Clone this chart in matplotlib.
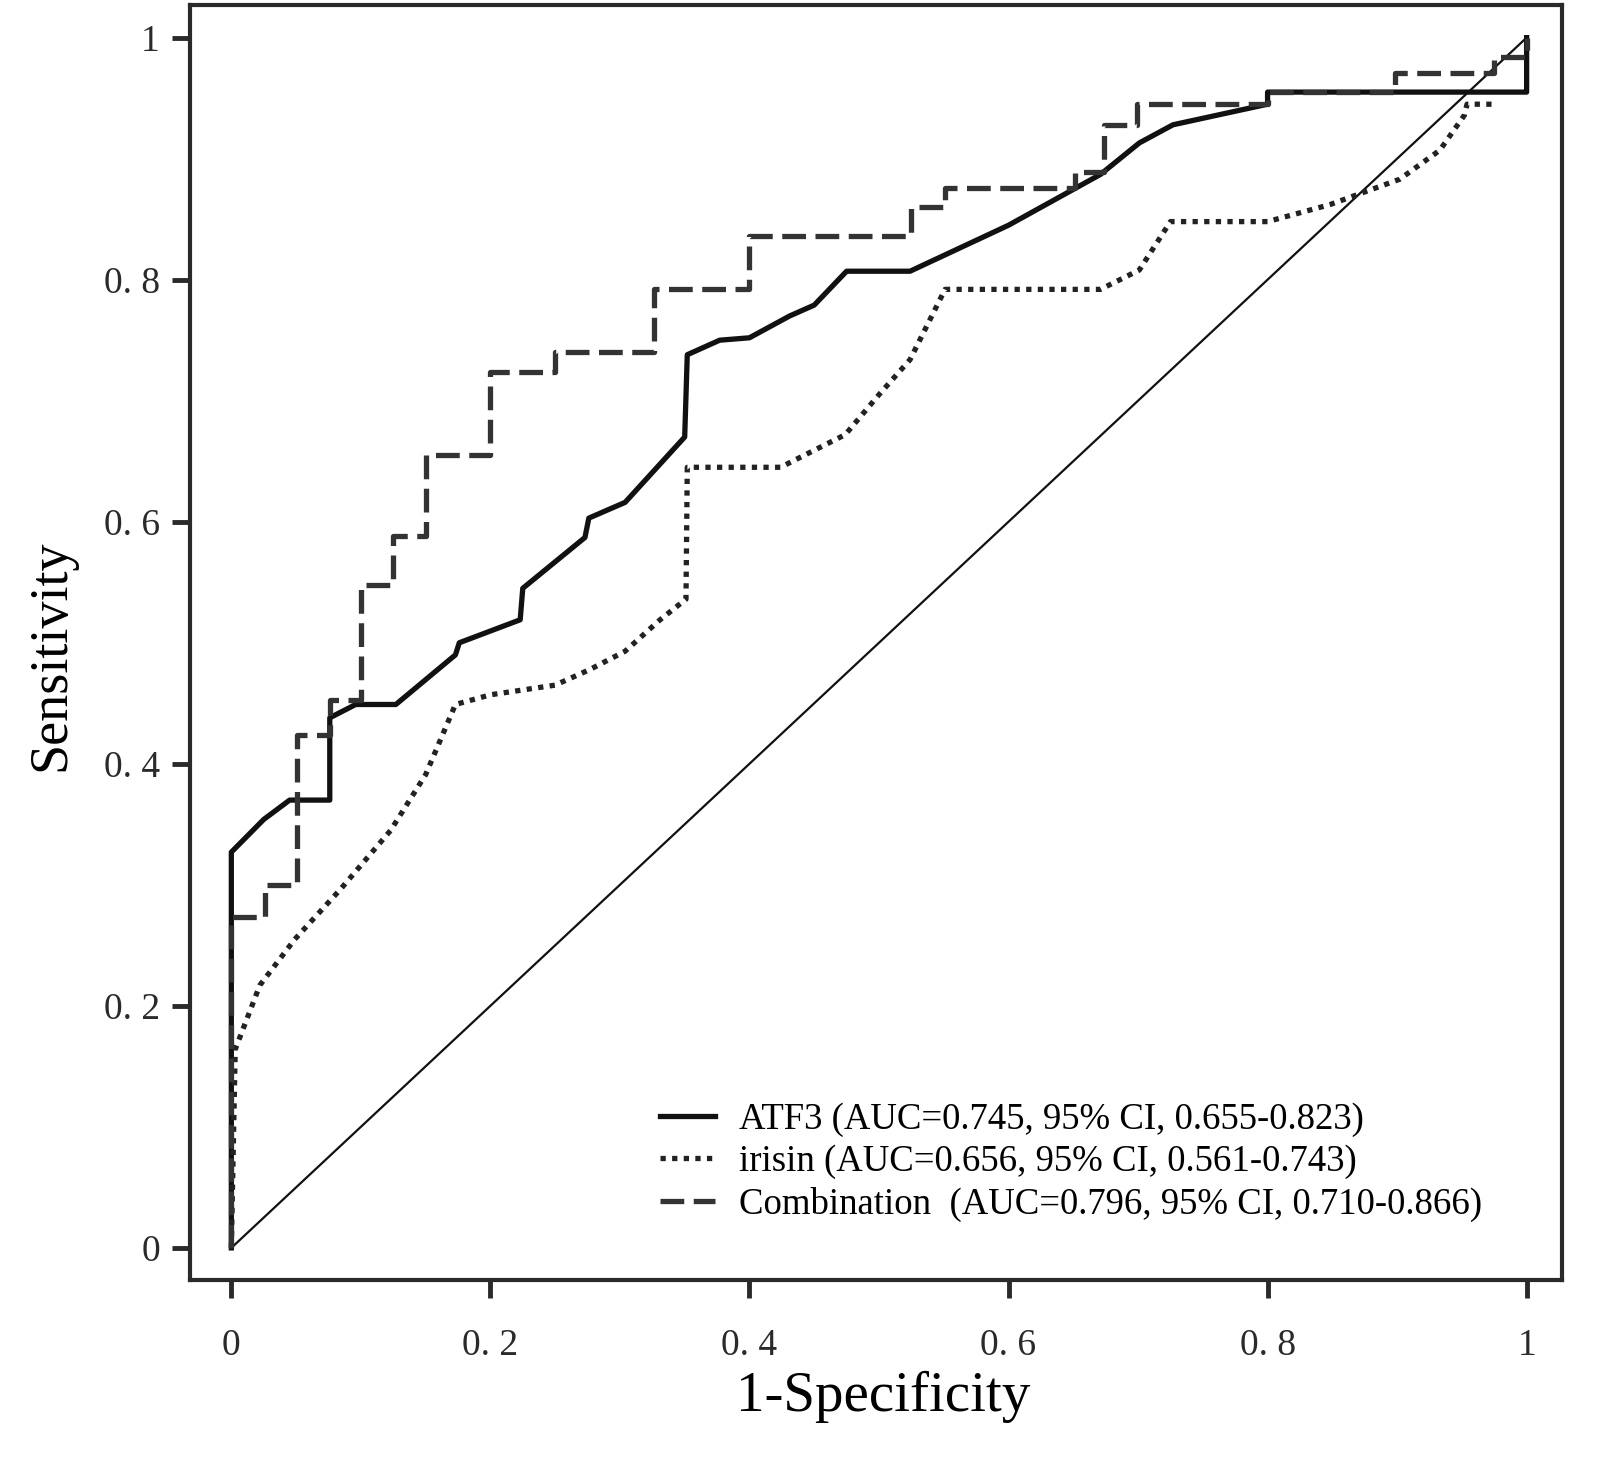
import matplotlib
matplotlib.use("Agg")
import matplotlib.pyplot as plt

# ROC curve points (1-specificity, sensitivity)
atf3_x = [0, 0, 0.025, 0.045, 0.076, 0.076, 0.096, 0.127, 0.173, 0.176, 0.223, 0.225,
          0.273, 0.276, 0.304, 0.350, 0.352, 0.377, 0.40, 0.431, 0.45, 0.475, 0.524,
          0.60, 0.671, 0.701, 0.727, 0.80, 0.80, 1.0, 1.0]
atf3_y = [0, 0.327, 0.354, 0.370, 0.370, 0.438, 0.449, 0.449, 0.490, 0.500, 0.519, 0.545,
          0.587, 0.603, 0.616, 0.670, 0.738, 0.750, 0.752, 0.770, 0.779, 0.807, 0.807,
          0.845, 0.887, 0.913, 0.928, 0.945, 0.955, 0.955, 1.0]

irisin_x = [0, 0.003, 0.022, 0.049, 0.084, 0.123, 0.150, 0.173, 0.20, 0.25, 0.277,
            0.304, 0.331, 0.351, 0.352, 0.424, 0.474, 0.50, 0.524, 0.551, 0.671, 0.701,
            0.725, 0.80, 0.848, 0.902, 0.933, 0.952, 0.954, 0.975]
irisin_y = [0, 0.164, 0.217, 0.255, 0.296, 0.345, 0.391, 0.449, 0.457, 0.465, 0.478,
            0.493, 0.519, 0.536, 0.645, 0.645, 0.672, 0.705, 0.734, 0.792, 0.792, 0.808,
            0.848, 0.848, 0.862, 0.883, 0.907, 0.936, 0.945, 0.945]

comb_x = [0, 0, 0.026, 0.026, 0.051, 0.051, 0.076, 0.076, 0.10, 0.10, 0.125, 0.125,
          0.150, 0.150, 0.20, 0.20, 0.25, 0.25, 0.326, 0.326, 0.40, 0.40, 0.525, 0.525,
          0.551, 0.551, 0.651, 0.651, 0.674, 0.674, 0.699, 0.699, 0.80, 0.80, 0.898,
          0.898, 0.975, 0.975, 1.0, 1.0]
comb_y = [0, 0.273, 0.273, 0.300, 0.300, 0.424, 0.424, 0.453, 0.453, 0.548, 0.548, 0.588,
          0.588, 0.655, 0.655, 0.724, 0.724, 0.740, 0.740, 0.792, 0.792, 0.836, 0.836,
          0.860, 0.860, 0.876, 0.876, 0.889, 0.889, 0.928, 0.928, 0.945, 0.945, 0.955,
          0.955, 0.971, 0.971, 0.984, 0.984, 1.0]

labels = ["ATF3 (AUC=0.745, 95% CI, 0.655-0.823)",
          "irisin (AUC=0.656, 95% CI, 0.561-0.743)",
          "Combination  (AUC=0.796, 95% CI, 0.710-0.866)"]

ticks = [0, 0.2, 0.4, 0.6, 0.8, 1.0]
tick_labels = ["0", "0. 2", "0. 4", "0. 6", "0. 8", "1"]

plt.rcParams["font.family"] = ["Liberation Serif", "DejaVu Serif"]

fig = plt.figure(figsize=(16, 14.61), dpi=100)
ax = fig.add_axes([0.119, 0.124, 0.857, 0.8726])

ax.plot([0, 1], [0, 1], color="#111111", lw=1.6)
ax.plot(atf3_x, atf3_y, color="#111111", lw=3.8, label=labels[0])
ax.plot(irisin_x, irisin_y, color="#222222", lw=3.8, linestyle=(0, (1.0, 1.2)),
        label=labels[1])
ax.plot(comb_x, comb_y, color="#333333", lw=3.8, linestyle=(0, (4.5, 1.8)),
        label=labels[2])

ax.set_xlim(-0.0316, 1.027)
ax.set_ylim(-0.0264, 1.027)
ax.set_xticks(ticks)
ax.set_xticklabels(tick_labels)
ax.set_yticks(ticks)
ax.set_yticklabels(tick_labels)
ax.tick_params(direction="out", length=13, width=3.5, labelsize=27,
               colors="#2a2a2a")
ax.tick_params(axis="x", pad=22)
ax.tick_params(axis="y", pad=9)
for s in ax.spines.values():
    s.set_linewidth(3)
    s.set_color("#2a2a2a")

ax.set_xlabel("1-Specificity", fontsize=41)
ax.set_ylabel("Sensitivity", fontsize=39)
ax.xaxis.set_label_coords(0.505, -0.071)
ax.yaxis.set_label_coords(-0.083, 0.49)

leg = ax.legend(loc="lower left", bbox_to_anchor=(0.3426, 0.045), frameon=False,
                fontsize=26.5, handlelength=1.5, labelspacing=0.22,
                handletextpad=0.63, borderpad=0, borderaxespad=0)

fig.savefig("out.png", dpi=100)
